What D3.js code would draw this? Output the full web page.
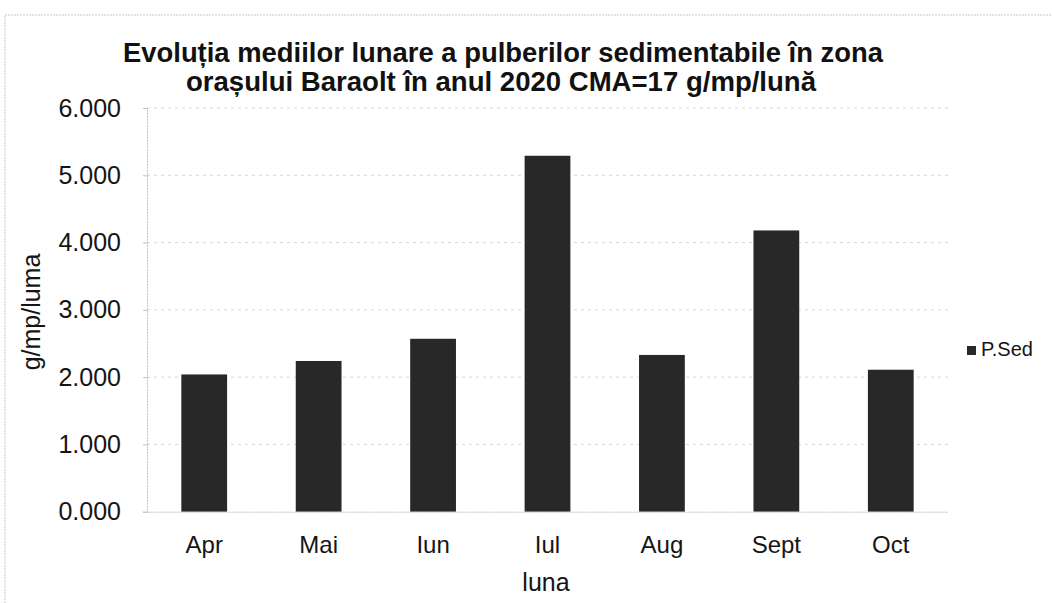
<!DOCTYPE html>
<html>
<head>
<meta charset="utf-8">
<script src="https://cdn.jsdelivr.net/npm/d3@7"></script>
<style>
  html, body { margin: 0; padding: 0; background: #fff; }
  svg { display: block; font-family: "Liberation Sans", Arial, sans-serif; }
</style>
</head>
<body>
<svg id="chart" width="1052" height="603"></svg>
<script>
const categories = ["Apr", "Mai", "Iun", "Iul", "Aug", "Sept", "Oct"];
const values = [2.04, 2.24, 2.57, 5.29, 2.33, 4.18, 2.11];
const yTicks = [0, 1, 2, 3, 4, 5, 6];
const seriesName = "P.Sed";
const titleLines = ["Evoluția mediilor lunare a pulberilor sedimentabile în zona",
                    "orașului Baraolt în anul 2020 CMA=17 g/mp/lună"];
const xTitle = "luna";
const yTitle = "g/mp/luma";

const svg = d3.select("#chart");
const plot = { left: 147, right: 948, top: 108, bottom: 511.7 };

// frame
svg.append("rect").attr("x", 5).attr("y", 15).attr("width", 1100).attr("height", 700)
  .attr("fill", "none").attr("stroke", "#c4c9c4").attr("stroke-width", 1)
  .attr("stroke-dasharray", "2,1");

const x = d3.scaleBand().domain(categories).range([plot.left, plot.right]).paddingInner(0.6).paddingOuter(0.3);
const y = d3.scaleLinear().domain([0, 6]).range([plot.bottom, plot.top]);

// gridlines
svg.append("g").selectAll("line").data(yTicks.filter(d => d > 0)).join("line")
  .attr("x1", plot.left).attr("x2", plot.right)
  .attr("y1", d => y(d)).attr("y2", d => y(d))
  .attr("stroke", "#d6d6d6").attr("stroke-width", 1).attr("stroke-dasharray", "3,4");

// bars
svg.append("g").selectAll("rect").data(categories).join("rect")
  .attr("x", (d) => x(d))
  .attr("width", x.bandwidth())
  .attr("y", (d, i) => y(values[i]))
  .attr("height", (d, i) => y(0) - y(values[i]))
  .attr("fill", "#282828");

// y axis
const yAxis = d3.axisLeft(y).tickValues(yTicks).tickFormat(d3.format(".3f")).tickSize(4).tickPadding(22);
const gy = svg.append("g").attr("transform", `translate(${plot.left},0)`).call(yAxis);
gy.select(".domain").attr("stroke", "#b9c2b9").attr("stroke-dasharray", "2,1");
gy.selectAll(".tick line").attr("stroke", "#b9c2b9");
gy.selectAll(".tick text").attr("font-size", 25).attr("fill", "#151515")
  .attr("font-family", "Liberation Sans, Arial, sans-serif");

// x axis
const xAxis = d3.axisBottom(x).tickSize(0).tickPadding(24);
const gx = svg.append("g").attr("transform", `translate(0,${plot.bottom})`).call(xAxis);
gx.select(".domain").attr("stroke", "#b9c2b9").attr("stroke-dasharray", "2,1");
gx.selectAll(".tick text").attr("font-size", 24).attr("fill", "#151515")
  .attr("font-family", "Liberation Sans, Arial, sans-serif");

// axis titles
svg.append("text").attr("x", 546).attr("y", 591).attr("text-anchor", "middle")
  .attr("font-size", 25).attr("fill", "#151515").text(xTitle);
svg.append("text").attr("transform", "translate(40,312) rotate(-90)").attr("text-anchor", "middle")
  .attr("font-size", 25).attr("fill", "#151515").text(yTitle);

// title
const tl = [{ x: 123, y: 62, w: 760 }, { x: 186, y: 91, w: 630 }];
svg.append("g").selectAll("text").data(titleLines).join("text")
  .attr("x", (d, i) => tl[i].x).attr("y", (d, i) => tl[i].y)
  .attr("font-size", 27).attr("font-weight", "bold").attr("fill", "#111")
  .attr("textLength", (d, i) => tl[i].w).attr("lengthAdjust", "spacingAndGlyphs")
  .text(d => d);

// legend
const lg = svg.append("g").attr("transform", "translate(967,346)");
lg.append("rect").attr("width", 9).attr("height", 9).attr("fill", "#282828");
lg.append("text").attr("x", 14).attr("y", 10).attr("font-size", 20).attr("fill", "#151515").text(seriesName);
</script>
</body>
</html>
